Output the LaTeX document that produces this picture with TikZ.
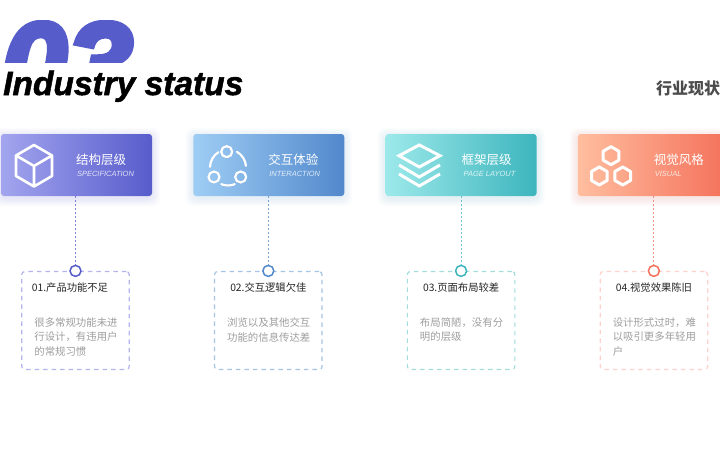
\documentclass[tikz,border=0pt]{standalone}
\usepackage{fontspec}
\setmainfont{Noto Sans CJK SC}
\newfontfamily\enfont{Liberation Sans}
\newfontfamily\heavyfont[BoldItalicFeatures={FakeBold=1.5}]{Liberation Sans}
\newfontfamily\numfont[BoldItalicFeatures={FakeBold=5}]{Liberation Sans}
\usetikzlibrary{positioning,calc}

\definecolor{purpleA}{HTML}{A3A5EE}
\definecolor{purpleB}{HTML}{575CCB}
\definecolor{purpleC}{HTML}{B5B4EE}
\definecolor{blueA}{HTML}{9ECDF4}
\definecolor{blueB}{HTML}{5288CC}
\definecolor{blueC}{HTML}{A5C4E8}
\definecolor{tealA}{HTML}{9CE9EA}
\definecolor{tealB}{HTML}{3DB5BD}
\definecolor{tealC}{HTML}{A3DDDE}
\definecolor{coralA}{HTML}{FFBE9F}
\definecolor{coralB}{HTML}{F4705A}
\definecolor{coralC}{HTML}{FDD3CB}

\tikzset{
 card/.style={minimum width=151pt,minimum height=62pt,rounded corners=3pt,inner sep=0pt,
  left color=#1A,right color=#1B},
 cardhalo/.style={fill=#1B,fill opacity=0.014,rounded corners=7pt},
 infobox/.style={draw=#1C,line width=1.2pt,dash pattern=on 4.5pt off 4pt,rounded corners=3pt,
  minimum width=107.5pt,minimum height=98pt,inner sep=0pt},
 pin/.style={circle,draw=#1B,fill=white,line width=1.5pt,minimum size=11pt,inner sep=0pt},
 link/.style={draw=#1B,draw opacity=0.75,line width=1pt,dash pattern=on 2pt off 2pt},
 cardname/.style={text=white,font=\fontsize{12.5}{14}\selectfont,inner sep=0pt,anchor=west},
 cardsub/.style={text=white,opacity=0.8,font=\enfont\itshape\fontsize{7.5}{9}\selectfont,inner sep=0pt,anchor=west},
 boxhead/.style={text=black!85,font=\fontsize{10.3}{12}\selectfont,inner sep=0pt},
 boxbody/.style={text=black!38,font=\fontsize{10.4}{14.6}\selectfont,inner sep=0pt,
  align=left,anchor=north west},
 iconline/.style={draw=white,line join=round,
  preaction={draw=black,draw opacity=0.14,transform canvas={yshift=-1.2pt}}},
}

\begin{document}
\begin{tikzpicture}[x=1pt,y=1pt,node distance=192.3pt,on grid]
 \clip (0,0) rectangle (720,-450);
 \fill[white] (0,0) rectangle (720,-450);
 % big number, cut off under the title
 \begin{scope}
  \clip (0,-20) rectangle (720,-62);
  \node[anchor=base west,inner sep=0pt,text=purpleB,font=\numfont\bfseries\itshape\fontsize{118}{118}\selectfont] (number) at (1,-105) {03};
 \end{scope}
 \node[anchor=base west,inner sep=0pt,font=\heavyfont\bfseries\itshape\fontsize{33.5}{35}\selectfont] (title) at (3,-95) {Industry status};
 \node[anchor=west,inner sep=0pt,text=black!70,font=\bfseries\fontsize{16}{18}\selectfont] (subtitle) at (656,-88) {行业现状};

 % glow round the cards
 \foreach \xx/\cc in {1/purple,193.3/blue,385.6/teal,577.9/coral}{
  \foreach \gg in {8,7,...,1}
   \fill[cardhalo=\cc] (\xx-\gg,-134+\gg-2) rectangle (\xx+151+\gg,-196-\gg-2);
 }

 % cards
 \node[card=purple] (card1) at (76.5,-165) {};
 \node[card=blue]   (card2) [right=of card1] {};
 \node[card=teal]   (card3) [right=of card2] {};
 \node[card=coral]  (card4) [right=of card3] {};

 \node[cardname] (name1) at ([xshift=75pt,yshift=5pt]card1.west) {结构层级};
 \node[cardname] (name2) at ([xshift=75pt,yshift=5pt]card2.west) {交互体验};
 \node[cardname] (name3) at ([xshift=76pt,yshift=5pt]card3.west) {框架层级};
 \node[cardname] (name4) at ([xshift=76pt,yshift=5pt]card4.west) {视觉风格};
 \node[cardsub] (sub1) at ([xshift=76pt,yshift=-9pt]card1.west) {SPECIFICATION};
 \node[cardsub] (sub2) at ([xshift=76pt,yshift=-9pt]card2.west) {INTERACTION};
 \node[cardsub] (sub3) at ([xshift=78pt,yshift=-9pt]card3.west) {PAGE LAYOUT};
 \node[cardsub] (sub4) at ([xshift=77pt,yshift=-9pt]card4.west) {VISUAL};

 % icons
 \draw[iconline,line width=2.6pt] (34,-145) -- (52,-155.5) -- (52,-176) -- (34,-186.5) -- (16,-176) -- (16,-155.5) -- cycle
  (16,-155.5) -- (34,-166) -- (52,-155.5) (34,-166) -- (34,-186.5);

 \draw[iconline,line width=2.2pt] (226.7,-151.7) circle (5.5) (214,-177) circle (5.5) (240.7,-177) circle (5.5);
 \draw[iconline,line width=2.2pt,line cap=round] (228,-167.5) ++(122:18) arc (122:178:18) (228,-167.5) ++(60:18) arc (60:5:18)
  (228,-167.5) ++(-68:18) arc (-68:-112:18);

 \draw[iconline,line width=3pt,line join=miter] (399,-155.7) -- (419.3,-145) -- (440,-155.7) -- (419.3,-167) -- cycle;
 \draw[iconline,line width=3pt,line join=miter] (399,-165) -- (419.3,-177) -- (440,-165);
 \draw[iconline,line width=3pt,line join=miter] (399,-174) -- (419.3,-186) -- (440,-174);

 \foreach \hx/\hy in {611/-155.7,599.3/-176,622.7/-176}
  \draw[iconline,line width=3pt,shift={(\hx,\hy)}] (30:9) -- (90:9) -- (150:9) -- (210:9) -- (270:9) -- (330:9) -- cycle;

 % boxes under the cards
 \node[infobox=purple] (box1) at (75.5,-320.5) {};
 \node[infobox=blue]   (box2) [right=192.8pt of box1] {};
 \node[infobox=teal]   (box3) [right=192.8pt of box2] {};
 \node[infobox=coral]  (box4) [right=192.8pt of box3] {};

 \path (box1.north |- card1.south) coordinate (top1) (box2.north |- card2.south) coordinate (top2)
  (box3.north |- card3.south) coordinate (top3) (box4.north |- card4.south) coordinate (top4);
 \node[pin=purple] (pin1) at (box1.north) {};
 \node[pin=blue]   (pin2) at (box2.north) {};
 \node[pin=teal]   (pin3) at (box3.north) {};
 \node[pin=coral]  (pin4) at (box4.north) {};

 \draw[link=purple] (top1) -- (pin1);
 \draw[link=blue]   (top2) -- (pin2);
 \draw[link=teal]   (top3) -- (pin3);
 \draw[link=coral]  (top4) -- (pin4);

 \node[boxhead] (head1) at ([xshift=-5.5pt,yshift=-17pt]box1.north) {01.产品功能不足};
 \node[boxhead] (head2) at ([yshift=-17pt]box2.north) {02.交互逻辑欠佳};
 \node[boxhead] (head3) at ([yshift=-17pt]box3.north) {03.页面布局较差};
 \node[boxhead] (head4) at ([yshift=-17pt]box4.north) {04.视觉效果陈旧};

 \node[boxbody] (body1) at ([xshift=13pt,yshift=-46.5pt]box1.north west) {很多常规功能未进\\行设计，有违用户\\的常规习惯};
 \node[boxbody] (body2) at ([xshift=13pt,yshift=-46.5pt]box2.north west) {浏览以及其他交互\\功能的信息传达差};
 \node[boxbody] (body3) at ([xshift=13pt,yshift=-46.5pt]box3.north west) {布局简陋，没有分\\明的层级};
 \node[boxbody] (body4) at ([xshift=13pt,yshift=-46.5pt]box4.north west) {设计形式过时，难\\以吸引更多年轻用\\户};
\end{tikzpicture}
\end{document}
